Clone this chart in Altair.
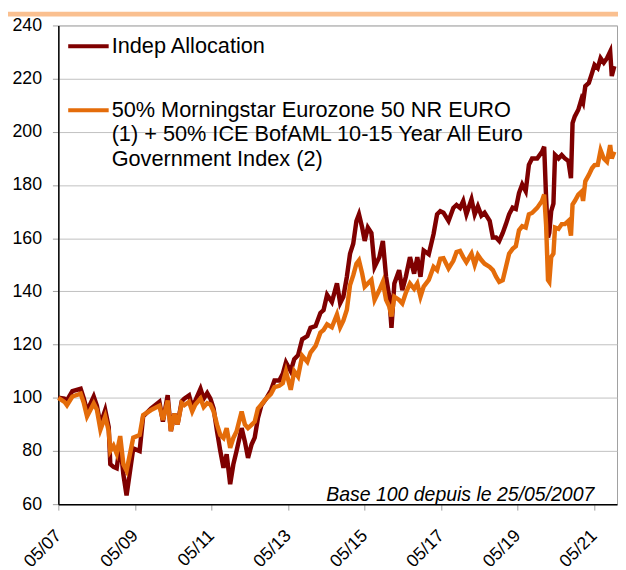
import altair as alt
import pandas as pd

BASE_DATE = "2007-05-25"

# months elapsed since the base date
months = [0, 1.9, 2.7, 4.4, 7.0, 8.0, 9.0, 11.1, 12.1, 13.2, 14.7, 15.8, 16.3, 17.3, 18.3,
          19.4, 20.4, 21.4, 23.5, 25.5, 26.6, 29.1, 31.7, 32.8, 34.3, 35.3, 36.4, 37.4, 38.7,
          39.5, 41.0, 42.0, 43.0, 44.6, 45.6, 46.7, 47.7, 48.7, 49.8, 50.8, 51.8, 52.8, 53.9,
          54.9, 55.9, 57.5, 58.5, 59.5, 60.6, 61.6, 62.6, 63.7, 65.2, 66.7, 67.8, 69.3, 70.4,
          71.4, 72.9, 74.0, 75.2, 76.5, 78.1, 79.1, 80.7, 82.2, 83.2, 84.3, 85.8, 87.4, 88.4,
          89.4, 90.5, 91.5, 92.5, 93.5, 94.3, 95.3, 96.1, 97.1, 98.2, 99.2, 100.7, 101.8, 102.8,
          103.8, 104.5, 105.4, 106.9, 107.9, 109.0, 110.3, 111.6, 112.6, 113.6, 114.6, 116.2,
          117.7, 118.8, 119.8, 120.8, 122.4, 123.9, 124.9, 126.0, 127.0, 128.0, 129.6, 130.6,
          131.6, 132.7, 133.7, 135.3, 136.3, 137.3, 138.3, 139.4, 140.4, 141.4, 142.5, 143.5,
          144.5, 145.5, 146.6, 147.6, 148.6, 150.2, 151.7, 152.4, 153.0, 153.6, 154.0, 154.6,
          155.3, 155.8, 156.9, 157.9, 158.9, 160.0, 160.8, 161.3, 162.0, 163.1, 164.1, 164.6,
          165.3, 166.4, 167.4, 168.2, 169.2, 170.1, 171.1, 172.1, 173.1, 173.6, 174.4]

indep = [100, 99.7, 99.0, 102.5, 103.4, 99.7, 95.0, 100.5, 97.0, 90.0, 95.4, 89.0, 75.0, 74.0, 73.5,
         83.0, 71.2, 63.3, 81.0, 80.0, 93.0, 96.0, 98.5, 91.0, 101.0, 87.5, 94.0, 90.0, 98.7,
         99.7, 100.9, 96.5, 99.0, 103.4, 99.7, 101.8, 99.7, 96.0, 87.3, 80.0, 73.7, 78.8, 67.5,
         75.0, 80.0, 88.6, 83.6, 77.4, 82.4, 85.0, 92.3, 97.2, 99.7, 102.8, 106.5, 106.5, 109.0,
         113.3, 110.0, 114.5, 116.0, 122.0, 123.2, 126.3, 127.0, 131.9, 133.0, 138.7, 136.0, 143.0, 135.6,
         138.0, 145.5, 154.2, 157.9, 166.5, 169.0, 164.0, 159.0, 164.0, 162.0, 149.2, 152.9, 159.0, 145.5,
         138.0, 126.3, 143.0, 148.0, 140.5, 145.5, 152.9, 146.7, 152.9, 145.5, 155.4, 154.0,
         161.6, 169.0, 170.2, 169.6, 166.5, 171.4, 172.5, 171.4, 174.0, 169.0, 174.6, 169.0,
         172.0, 168.5, 169.6, 166.5, 160.3, 160.3, 159.0, 162.0, 165.3, 169.0, 171.5, 171.0,
         177.0, 180.2, 177.7, 187.6, 190.0, 190.0, 192.5, 194.4, 175.2, 160.3, 162.0, 170.2,
         173.0, 191.3, 190.0, 191.3, 190.0, 189.0, 182.6, 203.3, 205.8, 208.3, 212.3, 211.0,
         217.2, 218.4, 222.1, 225.2, 224.0, 227.7, 226.0, 227.7, 230.2, 221.0, 224.7]

bench = [100, 98.5, 97.2, 100.5, 101.6, 98.0, 93.0, 97.9, 95.5, 88.0, 93.0, 87.5, 80.0, 82.0, 79.0,
         85.6, 75.0, 72.6, 85.0, 86.0, 93.5, 95.4, 97.0, 91.7, 99.0, 87.5, 94.0, 90.0, 98.0,
         97.2, 98.5, 94.9, 97.5, 99.7, 96.5, 98.0, 97.5, 94.9, 89.8, 86.0, 84.9, 88.6, 81.2,
         84.9, 87.3, 94.8, 90.0, 88.6, 89.8, 91.0, 96.0, 97.5, 99.7, 101.5, 104.0, 104.5, 105.5,
         110.0, 103.0, 110.0, 108.0, 115.8, 113.5, 117.0, 119.5, 124.5, 125.5, 127.6, 126.5, 131.3, 126.5,
         129.0, 133.1, 142.4, 146.0, 150.4, 151.7, 146.7, 141.8, 143.0, 144.3, 136.8, 140.5, 143.6, 136.8,
         134.3, 130.6, 138.0, 136.8, 135.5, 139.5, 143.0, 141.0, 143.0, 138.0, 141.8, 144.3,
         149.2, 148.0, 152.3, 152.5, 148.6, 151.5, 154.8, 155.2, 152.9, 151.0, 154.2, 150.0,
         153.7, 151.8, 150.4, 149.2, 148.0, 145.5, 143.6, 144.2, 149.2, 154.2, 156.0, 157.0,
         163.0, 164.5, 164.0, 169.0, 169.5, 171.4, 174.0, 176.4, 165.0, 144.3, 143.6, 152.9,
         154.2, 164.0, 163.5, 165.3, 165.3, 166.5, 161.0, 172.7, 174.0, 176.4, 177.5, 174.0,
         181.4, 183.8, 186.3, 187.5, 187.6, 193.1, 190.0, 188.8, 195.0, 190.0, 192.5]

tick_years = [2007, 2009, 2011, 2013, 2015, 2017, 2019, 2021]
y_ticks = [60, 80, 100, 120, 140, 160, 180, 200, 220, 240]

legend_1 = "Indep Allocation"
legend_2 = ["50% Morningstar Eurozone 50 NR EURO",
            "(1) + 50% ICE BofAML 10-15 Year All Euro",
            "Government Index (2)"]
note = "Base 100 depuis le 25/05/2007"

RED = "#7F0000"
ORANGE = "#E46C0A"
FONT = "Liberation Sans"

df = pd.DataFrame({"m": months, "indep": indep, "bench": bench})
df["date"] = pd.Timestamp(BASE_DATE) + pd.to_timedelta(df["m"] * 30.4375, unit="D")

x_enc = alt.X(
    "date:T",
    scale=alt.Scale(domain=[alt.DateTime(year=2007, month=5, date=25),
                            alt.DateTime(year=2021, month=12, date=31)]),
    axis=alt.Axis(
        values=[alt.DateTime(year=y, month=5, date=25) for y in tick_years],
        format="%m/%y", title=None, grid=False,
        labelAngle=-45, labelAlign="right", labelBaseline="middle",
        labelPadding=23, labelFontSize=18, labelColor="#000000", labelFont=FONT,
        tickColor="#A0A0A0", tickSize=6, domainColor="#000000", domainWidth=1.5,
    ),
)

def y_enc(field):
    return alt.Y(
        f"{field}:Q",
        scale=alt.Scale(domain=[60, 240], nice=False, zero=False),
        axis=alt.Axis(
            values=y_ticks, title=None, grid=True, gridColor="#C0C0C0",
            labelFontSize=18, labelColor="#000000", labelFont=FONT, labelPadding=11,
            tickColor="#A0A0A0", tickSize=6, domainColor="#000000", domainWidth=1.5,
        ),
    )

base = alt.Chart(df)
line_red = base.mark_line(color=RED, strokeWidth=4.5).encode(x=x_enc, y=y_enc("indep"))
line_orange = base.mark_line(color=ORANGE, strokeWidth=4.5).encode(x=x_enc, y=y_enc("bench"))

one = pd.DataFrame({"k": [0]})
layers = [line_red, line_orange]

layers.append(alt.Chart(one).mark_rule(color=RED, strokeWidth=4).encode(
    x=alt.value(10), x2=alt.value(51), y=alt.value(21)))
layers.append(alt.Chart(one).mark_text(text=legend_1, align="left", baseline="middle",
                                       font=FONT, fontSize=22, color="#000000").encode(
    x=alt.value(54), y=alt.value(20.5)))
layers.append(alt.Chart(one).mark_rule(color=ORANGE, strokeWidth=4).encode(
    x=alt.value(10), x2=alt.value(51), y=alt.value(86)))
for i, txt in enumerate(legend_2):
    layers.append(alt.Chart(one).mark_text(text=txt, align="left", baseline="middle",
                                           font=FONT, fontSize=22, color="#000000").encode(
        x=alt.value(54), y=alt.value(85.5 + 25 * i)))

layers.append(alt.Chart(one).mark_text(text=note, align="right", baseline="alphabetic",
                                       font=FONT, fontSize=19.7, fontStyle="italic",
                                       color="#000000").encode(
    x=alt.value(543), y=alt.value(482)))

layers.append(alt.Chart(one).mark_rect(color="#FAC090").encode(
    x=alt.value(-51), x2=alt.value(567), y=alt.value(-14), y2=alt.value(-9)))

chart = alt.layer(*layers).properties(
    width=566, height=485,
    padding={"left": 51, "top": 14, "right": 1, "bottom": 63},
    autosize=alt.AutoSizeParams(type="none"),
).configure(font=FONT).configure_view(stroke="#A0A0A0", strokeWidth=1)

chart.save("out.html", embed_options={"renderer": "svg", "actions": False})
